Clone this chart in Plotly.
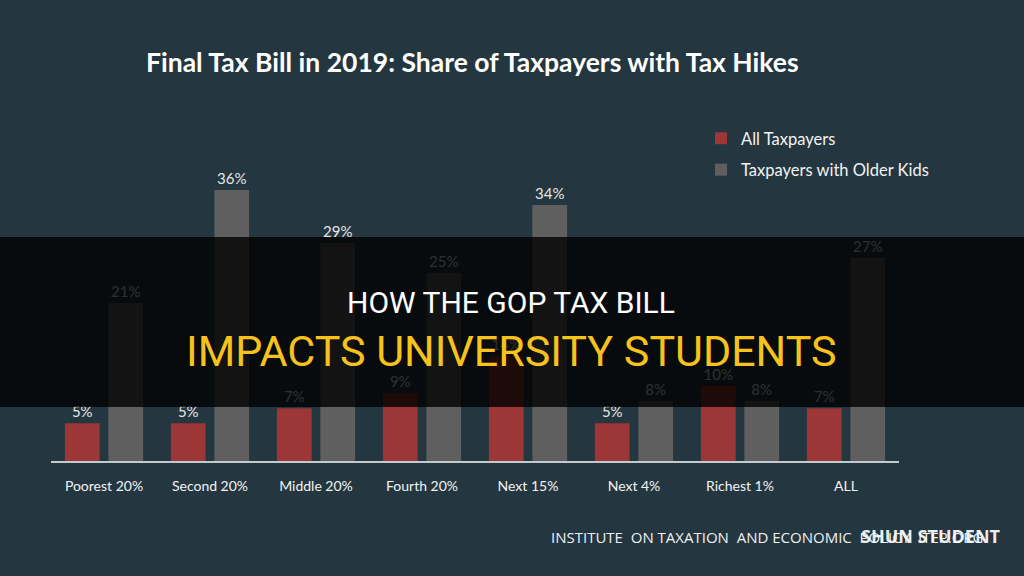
import plotly.graph_objects as go

categories = ["Poorest 20%", "Second 20%", "Middle 20%", "Fourth 20%",
              "Next 15%", "Next 4%", "Richest 1%", "ALL"]
all_taxpayers = [5, 5, 7, 9, 14, 5, 10, 7]
older_kids = [21, 36, 29, 25, 34, 8, 8, 27]
series_names = ["All Taxpayers", "Taxpayers with Older Kids"]

BG = "#243740"
RED = "#9d3636"
GRAY = "#5f5f5f"
HUM = "Lato, Roboto, sans-serif"

W, H = 1024, 576
L, R, T, B = 51, 125, 80, 115
PW, PH = W - L - R, H - T - B


def px(x):
    return (x - L) / PW


def py(y):
    return (H - B - y) / PH


fig = go.Figure()
fig.add_trace(go.Bar(
    x=categories, y=all_taxpayers, name=series_names[0],
    marker=dict(color=RED, line=dict(width=0)),
    text=[f"{v}%" for v in all_taxpayers], textposition="outside",
    textfont=dict(family=HUM, size=15, color="#e4e4e4"),
    cliponaxis=False, legendgroup="a",
))
fig.add_trace(go.Bar(
    x=categories, y=older_kids, name=series_names[1],
    marker=dict(color=GRAY, line=dict(width=0)),
    text=[f"{v}%" for v in older_kids], textposition="outside",
    textfont=dict(family=HUM, size=15, color="#e4e4e4"),
    cliponaxis=False, legendgroup="b",
))

fig.update_layout(
    width=W, height=H,
    paper_bgcolor=BG, plot_bgcolor=BG,
    margin=dict(l=L, r=R, t=T, b=B),
    barmode="group", bargap=0.18, bargroupgap=0.2,
    showlegend=True,
    legend=dict(
        x=px(701), y=py(121), xanchor="left", yanchor="top",
        bgcolor="rgba(0,0,0,0)", traceorder="grouped", tracegroupgap=7,
        font=dict(family=HUM, size=16.5, color="#f2f2f2"),
    ),
    xaxis=dict(
        showline=True, linecolor="#c3cacd", linewidth=2,
        ticks="outside", ticklen=11, tickcolor="rgba(0,0,0,0)",
        tickfont=dict(family=HUM, size=14, color="#f2f2f2"),
        showgrid=False, zeroline=False, fixedrange=True,
    ),
    yaxis=dict(range=[0, 50.6], visible=False, showgrid=False, zeroline=False),
    shapes=[dict(
        type="rect", xref="paper", yref="paper",
        x0=px(0), x1=px(W), y0=py(407), y1=py(237),
        fillcolor="rgba(0,0,0,0.8)", line=dict(width=0), layer="above",
    )],
)

ann = [
    dict(text="<b>Final Tax Bill in 2019: Share of Taxpayers with Tax Hikes</b>",
         x=px(472), y=py(62), font=dict(family=HUM, size=26.5, color="#ffffff")),
    dict(text="HOW THE GOP TAX BILL",
         x=px(511), y=py(302), font=dict(family="Roboto, sans-serif", size=30, color="#ffffff")),
    dict(text="IMPACTS UNIVERSITY STUDENTS",
         x=px(511), y=py(351), font=dict(family="Roboto, sans-serif", size=43, color="#f7c21b")),
    dict(text="INSTITUTE  ON TAXATION  AND ECONOMIC  POLICY  ITEP.ORG",
         x=px(549), y=py(537), xanchor="left",
         font=dict(family="Open Sans, sans-serif", size=15, color="#eef0f0")),
    dict(text="<b>SHUN STUDENT</b>",
         x=px(1003), y=py(536), xanchor="right",
         font=dict(family="Open Sans, sans-serif", size=18, color="rgba(255,255,255,0.92)")),
]
for a in ann:
    a.update(xref="paper", yref="paper", showarrow=False)
    a.setdefault("xanchor", "center")
    a.setdefault("yanchor", "middle")
fig.update_layout(annotations=ann)

fig.write_html("out.html")
